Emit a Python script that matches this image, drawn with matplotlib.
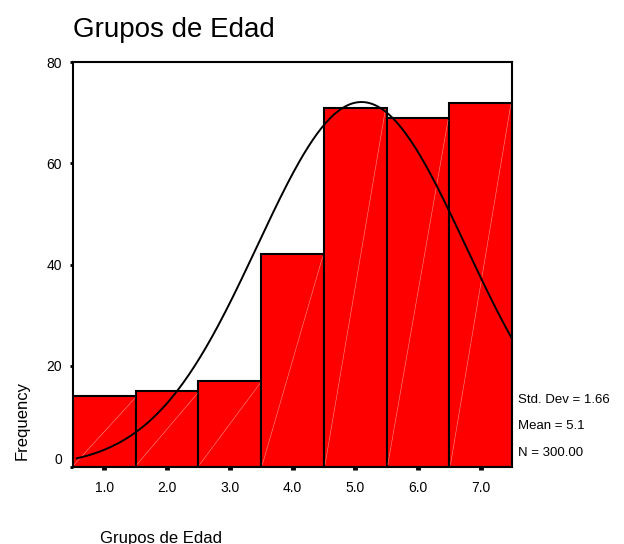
import numpy as np
import matplotlib
matplotlib.use("Agg")
import matplotlib.pyplot as plt
from matplotlib.transforms import ScaledTranslation

categories = [1.0, 2.0, 3.0, 4.0, 5.0, 6.0, 7.0]
counts = [14, 15, 17, 42, 71, 69, 72]
tick_labels = ["1.0", "2.0", "3.0", "4.0", "5.0", "6.0", "7.0"]
y_ticks = [0, 20, 40, 60, 80]
std_dev = 1.66
mean = 5.1
n_total = 300

plt.rcParams['font.family'] = ['Liberation Sans', 'DejaVu Sans']

fig = plt.figure(figsize=(6.24, 5.44), dpi=100)
ax = fig.add_axes([0.117, 0.1415, 0.7035, 0.7445])

bars = ax.bar(categories, counts, width=1.0, color='#ff0000', edgecolor='black', linewidth=1.5, zorder=2)
# faint diagonal rendering streaks inside each bar (bottom-left to top-right)
for x, h in zip(categories, counts):
    ax.plot([x - 0.48, x + 0.48], [0.5, h - 0.5], color='#ff8c8c', linewidth=0.4, zorder=2.5)

xs = np.linspace(0.56, 7.5, 300)
ys = n_total * 1.0 / (std_dev * np.sqrt(2 * np.pi)) * np.exp(-0.5 * ((xs - mean) / std_dev) ** 2)
ax.plot(xs, ys, color='black', linewidth=1.4, zorder=3)

ax.set_xlim(0.5, 7.5)
ax.set_ylim(0, 80)
ax.set_xticks(categories)
ax.set_xticklabels(tick_labels)
ax.set_yticks(y_ticks)
ax.tick_params(axis='both', labelsize=10, direction='out')
ax.tick_params(axis='y', length=2, width=2, pad=6)
ax.tick_params(axis='x', length=2, width=3.5, pad=8)
for s in ax.spines.values():
    s.set_linewidth(1.5)
    s.set_zorder(4)

# the "0" label sits slightly above its tick in the reference
lbl0 = ax.get_yticklabels()[0]
lbl0.set_transform(lbl0.get_transform() + ScaledTranslation(0, 9 / 100, fig.dpi_scale_trans))

fig.text(73/624, 1 - 30/544, "Grupos de Edad", fontsize=20, ha='left', va='center')
fig.text(100/624, 1 - 538/544, "Grupos de Edad", fontsize=12, ha='left', va='center')
fig.text(22/624, 1 - 420/544, "Frequency", fontsize=12, rotation=90, ha='center', va='center')

fig.text(518/624, 1 - 400/544, f"Std. Dev = {std_dev:.2f}", fontsize=9.5, ha='left', va='center')
fig.text(518/624, 1 - 426/544, f"Mean = {mean:.1f}", fontsize=9.5, ha='left', va='center')
fig.text(518/624, 1 - 453/544, f"N = {n_total:.2f}", fontsize=9.5, ha='left', va='center')

fig.savefig("out.png", dpi=100)
